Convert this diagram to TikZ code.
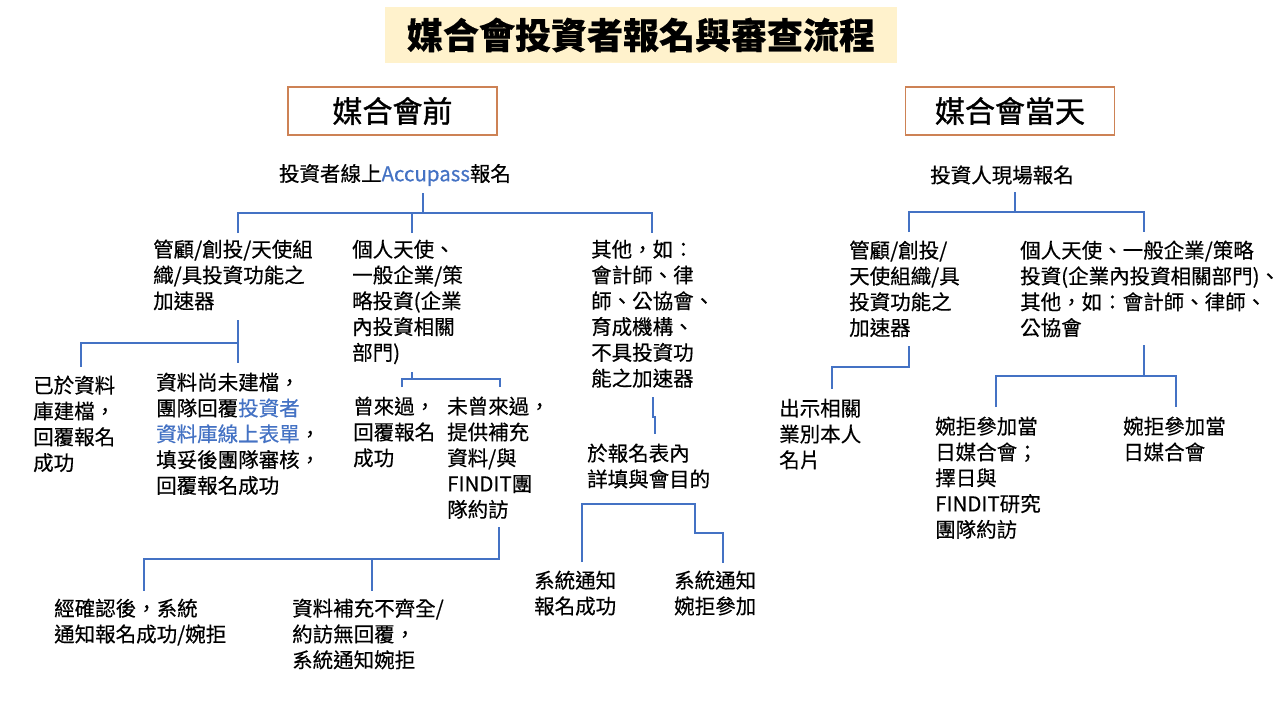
\documentclass[tikz,border=0pt]{standalone}
\usepackage{fontspec}
\setmainfont{Noto Sans CJK TC}[FakeBold=0.4]
\newfontfamily\hdrfont{Noto Sans CJK TC}[FakeBold=1.2]
\usepackage{xcolor}
\definecolor{lineblue}{RGB}{68,114,196}
\definecolor{txtblue}{RGB}{68,114,196}
\definecolor{titlefill}{RGB}{255,242,204}
\definecolor{hdrborder}{RGB}{205,130,85}
\newcommand{\mlines}[1]{\begin{tabular}[t]{@{}l@{}}#1\end{tabular}}
\begin{document}
\begin{tikzpicture}[x=1pt,y=-1pt,
  every node/.style={inner sep=0pt},
  txt/.style={font=\fontsize{20.5}{25.8}\selectfont, anchor=base west},
  ctxt/.style={font=\fontsize{20.5}{25.8}\selectfont},
  hdr/.style={draw=hdrborder, line width=1.2pt, minimum width=209pt, minimum height=48pt, font=\hdrfont\fontsize{30}{34}\selectfont},
  link/.style={draw=lineblue, line width=1.3pt}]
\path[fill=white,use as bounding box] (0,0) rectangle (1280,720);

% title and headers
\node[fill=titlefill, minimum width=512pt, minimum height=56pt, font=\bfseries\fontsize{36}{40}\selectfont] (title) at (641,35) {媒合會投資者報名與審查流程};
\node[hdr] (pre) at (392.5,111) {媒合會前};
\node[hdr] (day) at (1010,111) {媒合會當天};

% left tree nodes
\node[ctxt] (r1) at (395,175) {投資者線上\textcolor{txtblue}{Accupass}報名};
\node[txt] (A) at (153,257) {\mlines{管顧/創投/天使組\\織/具投資功能之\\加速器}};
\node[txt] (B) at (352,257) {\mlines{個人天使、\\一般企業/策\\略投資(企業\\內投資相關\\部門)}};
\node[txt] (C) at (591,257) {\mlines{其他，如：\\會計師、律\\師、公協會、\\育成機構、\\不具投資功\\能之加速器}};
\node[txt] (A1) at (33,393) {\mlines{已於資料\\庫建檔，\\回覆報名\\成功}};
\node[txt] (A2) at (156,390) {\mlines{資料尚未建檔，\\團隊回覆\textcolor{txtblue}{投資者}\\\textcolor{txtblue}{資料庫線上表單}，\\填妥後團隊審核，\\回覆報名成功}};
\node[txt] (B1) at (353,414) {\mlines{曾來過，\\回覆報名\\成功}};
\node[txt] (B2) at (447,414) {\mlines{未曾來過，\\提供補充\\資料/與\\FINDIT團\\隊約訪}};
\node[txt] (B2a) at (54,616) {\mlines{經確認後，系統\\通知報名成功/婉拒}};
\node[txt] (B2b) at (292,616) {\mlines{資料補充不齊全/\\約訪無回覆，\\系統通知婉拒}};
\node[txt] (C1) at (587,461) {\mlines{於報名表內\\詳填與會目的}};
\node[txt] (C1a) at (534,588) {\mlines{系統通知\\報名成功}};
\node[txt] (C1b) at (674,588) {\mlines{系統通知\\婉拒參加}};

% right tree nodes
\node[ctxt] (r2) at (1002,175) {投資人現場報名};
\node[txt] (D) at (849,258) {\mlines{管顧/創投/\\天使組織/具\\投資功能之\\加速器}};
\node[txt] (E) at (1020,258) {\mlines{個人天使、一般企業/策略\\投資(企業內投資相關部門)、\\其他，如：會計師、律師、\\公協會}};
\node[txt] (D1) at (779,416) {\mlines{出示相關\\業別本人\\名片}};
\node[txt] (E1) at (935,434) {\mlines{婉拒參加當\\日媒合會；\\擇日與\\FINDIT研究\\團隊約訪}};
\node[txt] (E2) at (1123,434) {\mlines{婉拒參加當\\日媒合會}};

% left connectors
\coordinate (r1s) at (423,193); \coordinate (r1j) at (423,213);
\coordinate (aT) at (238,233); \coordinate (bT) at (412,233); \coordinate (cT) at (652,233);
\draw[link] (r1s) -- (r1j);
\draw[link] (aT) -- (aT |- r1j) -- (cT |- r1j) -- (cT);
\draw[link] (bT) -- (bT |- r1j);

\coordinate (aB) at (238,320); \coordinate (aJ) at (238,343);
\coordinate (a1T) at (81,367); \coordinate (a2T) at (238,363);
\draw[link] (aB) -- (a2T);
\draw[link] (aJ) -- (a1T |- aJ) -- (a1T);

\coordinate (bB) at (412,372); \coordinate (bJ) at (412,379);
\coordinate (b1T) at (402,387); \coordinate (b2T) at (500,387);
\draw[link] (bB) -- (bJ);
\draw[link] (b1T) -- (b1T |- bJ) -- (b2T |- bJ) -- (b2T);

\coordinate (b2B) at (499,527); \coordinate (b2J) at (499,559);
\coordinate (b2aT) at (144,591); \coordinate (b2bT) at (372,591);
\draw[link] (b2B) -- (b2J) -- (b2aT |- b2J) -- (b2aT);
\draw[link] (b2bT |- b2J) -- (b2bT);

\coordinate (cB) at (653,397); \coordinate (c1T) at (655,434);
\draw[link] (cB) -- ++(0,20) -- ++(2,0) -- (c1T);

\coordinate (c1aT) at (582,562); \coordinate (c1J) at (582,504); \coordinate (c1bT) at (723,563);
\draw[link] (c1aT) -- (c1J) -- ++(113,0) -- ++(0,29) -- ++(28,0) -- (c1bT);

% right connectors
\coordinate (r2s) at (1015,192); \coordinate (r2j) at (1015,212);
\coordinate (dT) at (909,232); \coordinate (eT) at (1144,232);
\draw[link] (r2s) -- (r2j);
\draw[link] (dT) -- (dT |- r2j) -- (eT |- r2j) -- (eT);

\coordinate (dB) at (909,346); \coordinate (d1T) at (832,389);
\draw[link] (dB) -- ++(0,21) -| (d1T);

\coordinate (eB) at (1144,345); \coordinate (eJ) at (1144,376);
\coordinate (e1T) at (996,407); \coordinate (e2T) at (1176,407);
\draw[link] (eB) -- (eJ);
\draw[link] (e1T) -- (e1T |- eJ) -- (e2T |- eJ) -- (e2T);
\end{tikzpicture}
\end{document}
